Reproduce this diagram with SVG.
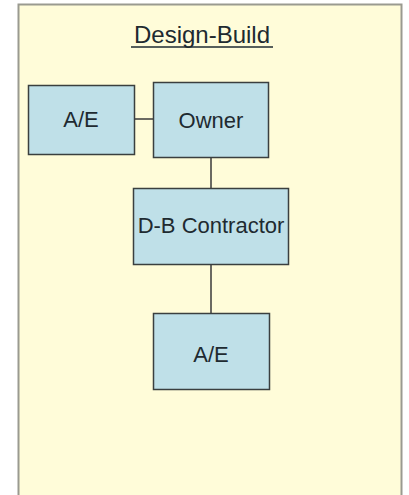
<svg xmlns="http://www.w3.org/2000/svg" width="409" height="495" viewBox="0 0 409 495">
<style>
.box{fill:#bfe0e8;stroke:#3a3f3f;stroke-width:1.5}
.lbl{font-family:"Liberation Sans",Arial,sans-serif;font-size:22px;fill:#1e2a30;text-anchor:middle}
.conn{stroke:#3a3a3a;stroke-width:1.5;fill:none}
</style>
<rect x="0" y="0" width="409" height="495" fill="#ffffff"/>
<rect x="18.5" y="4.5" width="383" height="492" fill="#fffcd9" stroke="#9a9a90" stroke-width="2"/>
<g id="title">
<text x="202" y="43" class="lbl" style="font-size:24px">Design-Build</text>
<line x1="131" y1="47" x2="273" y2="47" stroke="#1e2a30" stroke-width="1.3"/>
</g>
<g id="connectors">
<line class="conn" x1="135" y1="119" x2="153" y2="119"/>
<line class="conn" x1="211" y1="158" x2="211" y2="188"/>
<line class="conn" x1="211" y1="265" x2="211" y2="313"/>
</g>
<g id="ae-left">
<rect class="box" x="28.5" y="85.5" width="106" height="69" stroke="#2c3a48"/>
<text x="81" y="127" class="lbl">A/E</text>
</g>
<g id="owner">
<rect class="box" x="153.5" y="82.5" width="115" height="75"/>
<text x="211" y="128" class="lbl">Owner</text>
</g>
<g id="db-contractor">
<rect class="box" x="133.5" y="188.5" width="155" height="76"/>
<text x="211" y="233" class="lbl">D-B Contractor</text>
</g>
<g id="ae-bottom">
<rect class="box" x="153.5" y="313.5" width="116" height="76"/>
<text x="211" y="362" class="lbl">A/E</text>
</g>
</svg>
